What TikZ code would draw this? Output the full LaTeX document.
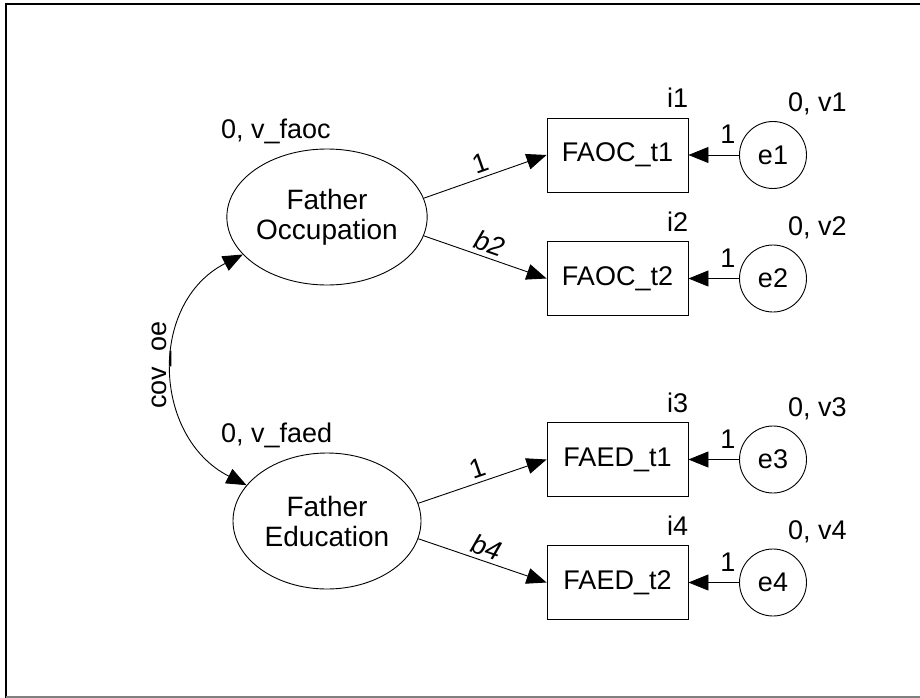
\documentclass[tikz,border=0pt]{standalone}
\usepackage{fontspec}
\setmainfont{Liberation Sans}
\usetikzlibrary{arrows.meta,calc,shapes.geometric}
\begin{document}
\begin{tikzpicture}[x=1pt,y=-1pt,
  every node/.style={font=\fontsize{27}{30}\selectfont},
  latent/.style={draw, ellipse, minimum width=188pt, minimum height=136pt, inner sep=0pt, align=center, line width=0.9pt, font=\fontsize{28}{30}\selectfont},
  observed/.style={draw, rectangle, minimum width=141pt, minimum height=74pt, inner sep=0pt, line width=0.9pt},
  errterm/.style={draw, circle, minimum size=67pt, inner sep=0pt, line width=0.9pt},
  regpath/.style={line width=0.9pt, -{Triangle[length=20pt,width=16pt]}},
  covpath/.style={line width=0.9pt, {Triangle[length=20pt,width=16pt]}-{Triangle[length=20pt,width=16pt]}},
  plabel/.style={inner sep=4pt},
  tag/.style={inner sep=0pt}
]
\useasboundingbox (0,0) rectangle (920,698);
% outer frame
\draw[line width=2pt] (6,698) -- (6,4) -- (920,4);
\draw[gray, line width=1.2pt] (6,697) -- (920,697);

% latent factors
\node[latent] (fo) at (327,217) {Father\\Occupation};
\node[latent] (fe) at (327,521) {Father\\Education};

% indicators
\node[observed] (x1) at (617.5,155) {FAOC\_t1};
\node[observed] (x2) at (617.5,278.5) {FAOC\_t2};
\node[observed] (x3) at (617.5,459.5) {FAED\_t1};
\node[observed] (x4) at (617.5,582.5) {FAED\_t2};

% error terms
\node[errterm] (e1) at (773,155) {e1};
\node[errterm] (e2) at (773,278.5) {e2};
\node[errterm] (e3) at (773,459.5) {e3};
\node[errterm] (e4) at (773,582.5) {e4};

% variance labels of the factors
\node[tag, anchor=base west] (vfo) at ($(fo.north)+(-106,-10)$) {0, v\_faoc};
\node[tag, anchor=base west] (vfe) at ($(fe.north)+(-106,-10)$) {0, v\_faed};

% intercept labels
\node[tag, anchor=base east] (i1) at ($(x1.north east)+(0,-10)$) {i1};
\node[tag, anchor=base east] (i2) at ($(x2.north east)+(0,-10)$) {i2};
\node[tag, anchor=base east] (i3) at ($(x3.north east)+(0,-10)$) {i3};
\node[tag, anchor=base east] (i4) at ($(x4.north east)+(0,-10)$) {i4};

% error variance labels
\node[tag, anchor=base west] (v1) at ($(e1.center)+(15,-43)$) {0, v1};
\node[tag, anchor=base west] (v2) at ($(e2.center)+(15,-43)$) {0, v2};
\node[tag, anchor=base west] (v3) at ($(e3.center)+(15,-43)$) {0, v3};
\node[tag, anchor=base west] (v4) at ($(e4.center)+(15,-43)$) {0, v4};

% factor loadings
\draw[regpath] (fo.11) -- node[sloped, above, plabel] {1} (x1.west);
\draw[regpath] (fo.-11) -- node[sloped, above, plabel] {\itshape b2} (x2.west);
\draw[regpath] (fe.11) -- node[sloped, above, plabel] {1} (x3.west);
\draw[regpath] (fe.-11) -- node[sloped, above, plabel] {\itshape b4} (x4.west);

% error paths
\draw[regpath] (e1) -- node[pos=0.22, above=11pt, tag] {1} (x1);
\draw[regpath] (e2) -- node[pos=0.22, above=11pt, tag] {1} (x2);
\draw[regpath] (e3) -- node[pos=0.22, above=11pt, tag] {1} (x3);
\draw[regpath] (e4) -- node[pos=0.22, above=11pt, tag] {1} (x4);

% factor covariance
\draw[covpath] (fo.204) .. controls +(-94.6,48.1) and +(-94.6,-48.1) .. (fe.156);
\node[rotate=90] (cov) at (162,365) {cov\_oe};
\end{tikzpicture}
\end{document}
